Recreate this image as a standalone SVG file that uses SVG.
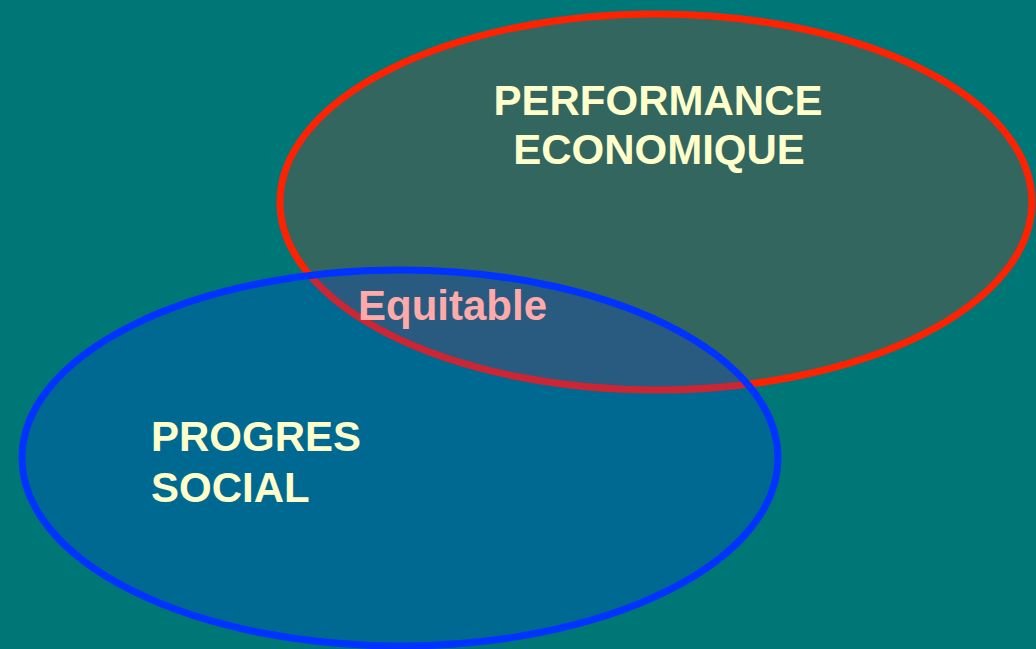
<svg xmlns="http://www.w3.org/2000/svg" width="1036" height="649" viewBox="0 0 1036 649">
<style>
.lbl{font-family:"Liberation Sans",Arial,sans-serif;font-weight:bold;font-size:42px;fill:#ffffcc}
.eq{fill:#ffaaaa}
</style>
<rect width="1036" height="649" fill="#007777"/>
<g id="performance">
<ellipse cx="656" cy="202" rx="376" ry="188" fill="#ff2200" fill-opacity="0.2" stroke="#ff2200" stroke-width="7"/>
<text class="lbl" x="658" y="115" text-anchor="middle">PERFORMANCE</text>
<text class="lbl" x="659" y="164" text-anchor="middle">ECONOMIQUE</text>
</g>
<g id="progres">
<ellipse cx="400" cy="458" rx="378" ry="188" fill="#0033ff" fill-opacity="0.2" stroke="#0033ff" stroke-width="7"/>
<text class="lbl" x="151" y="451">PROGRES</text>
<text class="lbl" x="151" y="502">SOCIAL</text>
</g>
<g id="equitable">
<text class="lbl eq" x="358" y="320">Equitable</text>
</g>
<g id="connectors"/>
</svg>
